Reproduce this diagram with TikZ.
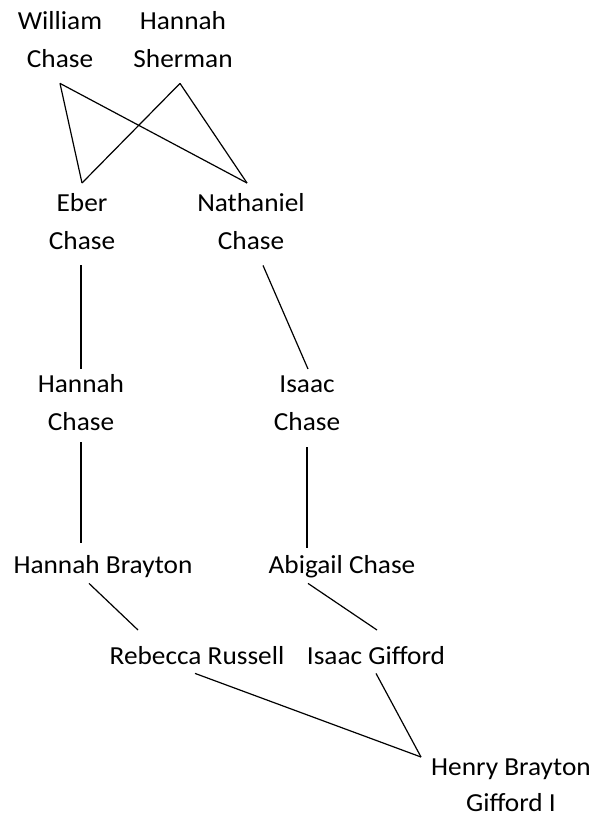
\documentclass[tikz,border=0pt]{standalone}
\usepackage{fontspec}
\setmainfont[FakeStretch=1.05]{Carlito}
\usetikzlibrary{calc}
\newcommand{\sv}{\rule[-8pt]{0pt}{28pt}}
\begin{document}
\begin{tikzpicture}[x=1pt,y=-1pt,
  person/.style={align=center, inner xsep=0pt, inner ysep=7pt,
    font=\fontsize{26}{38}\selectfont, anchor=north, text=black},
  link/.style={draw=black, line width=1.2pt}]
\useasboundingbox[fill=white] (0,0) rectangle (605,818);
% nodes (placed at x-centre, first baseline - 27)
\node[person] (wc) at (60,2)   {\sv William\\\sv Chase};
\node[person] (hs) at (183,2)  {\sv Hannah\\\sv Sherman};
\node[person] (eb) at (82,184) {\sv Eber\\\sv Chase};
\node[person] (nc) at (251,184) {\sv Nathaniel\\\sv Chase};
\node[person] (hc) at (81,365) {\sv Hannah\\\sv Chase};
\node[person] (ic) at (307,365) {\sv Isaac\\\sv Chase};
\node[person] (hb) at (103,546) {\sv Hannah Brayton};
\node[person] (ab) at (342,546) {\sv Abigail Chase};
\node[person] (rr) at (197,637) {\sv Rebecca Russell};
\node[person] (ig) at (376,637) {\sv Isaac Gifford};
\node[person, inner ysep=0pt, font=\fontsize{26}{36}\selectfont] (hg) at (511,755) {\sv Henry Brayton\\Gifford I};
% connectors
\path[link] ($(wc.south)+(0,1)$) -- ($(nc.north)+(-4,-1)$);
\path[link] ($(wc.south)+(0,1)$) -- ($(eb.north)+(0,-1)$);
\path[link] ($(hs.south)+(-3,1)$) -- ($(eb.north)+(0,-1)$);
\path[link] ($(hs.south)+(-3,1)$) -- ($(nc.north)+(-4,-1)$);
\path[link] ($(eb.south)+(-1,1)$) -- ($(hc.north)+(0,4)$);
\path[link] ($(nc.south)+(12,1)$) -- ($(ic.north)+(1,4)$);
\path[link] ($(hc.south)+(0,-3)$) -- ($(hb.north)+(-22,-3)$);
\path[link] ($(ic.south)+(0,2)$) -- ($(ab.north)+(-35,2)$);
\path[link] ($(hb.south)+(-14,-5)$) -- ($(rr.north)+(-59,-7)$);
\path[link] ($(ab.south)+(-34,-5)$) -- ($(ig.north)+(1,-7)$);
\path[link] ($(rr.south)+(-2,-6)$) -- ($(hg.north)+(-90,2)$);
\path[link] ($(ig.south)+(0,-6)$) -- ($(hg.north)+(-90,2)$);
\end{tikzpicture}
\end{document}
